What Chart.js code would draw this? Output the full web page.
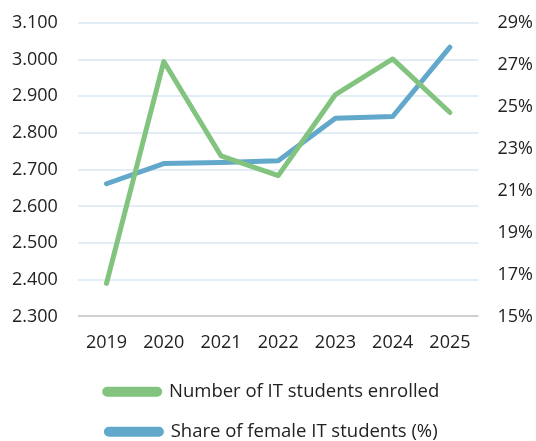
<!DOCTYPE html>
<html>
<head>
<meta charset="utf-8">
<script src="https://cdn.jsdelivr.net/npm/chart.js@4"></script>
<style>
html,body{margin:0;padding:0;background:#fff;}
#wrap{width:536px;height:441px;position:relative;}
</style>
</head>
<body>
<div id="wrap"><canvas id="c"></canvas></div>
<script>
const years = ['2019','2020','2021','2022','2023','2024','2025'];
const studentsEnrolled = [2390, 2995, 2738, 2684, 2905, 3002, 2856];
const femaleShare = [21.33, 22.29, 22.34, 22.43, 24.45, 24.54, 27.85];
const seriesNames = ['Number of IT students enrolled', 'Share of female IT students (%)'];

const green = '#82c47f';
const blue = '#62a8cb';
const font = {family: '"Open Sans", sans-serif', size: 18};
const legendFont = {family: '"Open Sans", sans-serif', size: 18.5};

// pulls the legend a little closer to the x axis labels
const legendTrim = {
  id: 'legendTrim',
  beforeLayout(chart) {
    const lg = chart.legend;
    if (lg && !lg._trimmed) {
      const orig = lg.fit;
      lg.fit = function () { orig.call(this); this.height -= 9; };
      lg._trimmed = true;
    }
  },
  afterLayout(chart) {
    const lg = chart.legend;
    if (lg) { lg.top -= 9; lg.bottom -= 9; }
  }
};
const topPad = s => { s.paddingTop = 23; };

new Chart(document.getElementById('c'), {
  type: 'line',
  data: {
    labels: years,
    datasets: [
      {label: seriesNames[0], data: studentsEnrolled, yAxisID: 'y',
       borderColor: green, backgroundColor: green, borderWidth: 5,
       pointRadius: 0, tension: 0, borderCapStyle: 'round', borderJoinStyle: 'round'},
      {label: seriesNames[1], data: femaleShare, yAxisID: 'y1',
       borderColor: blue, backgroundColor: blue, borderWidth: 5,
       pointRadius: 0, tension: 0, borderCapStyle: 'round', borderJoinStyle: 'round'}
    ]
  },
  plugins: [legendTrim],
  options: {
    responsive: true,
    maintainAspectRatio: false,
    animation: false,
    layout: {padding: {left: -8, right: -16, top: 0, bottom: -10}},
    plugins: {
      tooltip: {enabled: false},
      legend: {
        position: 'bottom',
        labels: {
          font: legendFont, color: '#222',
          boxWidth: 55, boxHeight: 5, padding: 21.5,
          useBorderRadius: true, borderRadius: 2.5
        }
      }
    },
    scales: {
      x: {
        offset: true,
        grid: {display: false, drawTicks: false},
        border: {display: false},
        ticks: {font: font, color: '#222', padding: 16}
      },
      y: {
        position: 'left',
        min: 2300, max: 3100,
        afterFit: topPad,
        grid: {drawTicks: false, lineWidth: 2,
               color: ctx => ctx.tick && ctx.tick.value === 2300 ? '#d0d0d0' : '#e2edf6'},
        border: {display: false},
        ticks: {stepSize: 100, font: font, color: '#222', padding: 20,
                callback: v => v.toLocaleString('de-DE', {minimumFractionDigits: 0})}
      },
      y1: {
        position: 'right',
        min: 15, max: 29,
        afterFit: topPad,
        grid: {display: false, drawTicks: false},
        border: {display: false},
        ticks: {stepSize: 2, font: font, color: '#222', padding: 19,
                callback: v => v + '%'}
      }
    }
  }
});
</script>
</body>
</html>
